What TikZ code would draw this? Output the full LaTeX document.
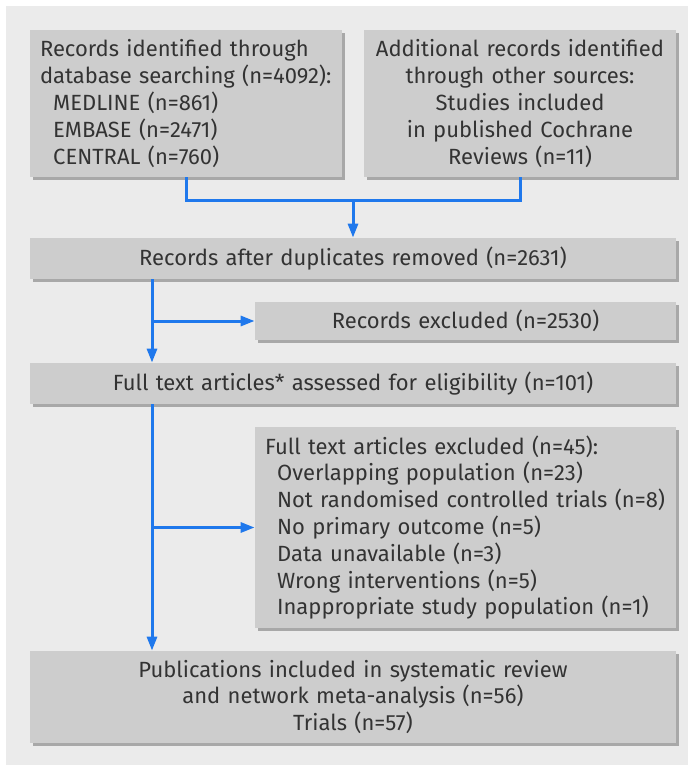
\documentclass[tikz,border=0pt]{standalone}
\usepackage{fontspec}
\setmainfont{Fira Sans}
\usetikzlibrary{arrows.meta,shadows}
\definecolor{pagegray}{HTML}{EBEBEB}
\definecolor{boxgray}{HTML}{CDCDCD}
\definecolor{shadegray}{HTML}{A8A8A8}
\definecolor{inkgray}{HTML}{333333}
\definecolor{flowblue}{HTML}{1F78EC}
\tikzset{
	stagebox/.style={fill=boxgray, text=inkgray, inner xsep=5pt, inner ysep=0pt,
		drop shadow={shadow xshift=1.5pt, shadow yshift=-1.5pt, fill=shadegray, opacity=1},
		font=\fontsize{11}{13.4}\selectfont},
	flow/.style={draw=flowblue, line width=1.5pt},
	flowtip/.style={flow, -{Triangle[length=7pt,width=5pt]}}
}

\begin{document}
\begin{tikzpicture}[x=0.5pt, y=-0.5pt]
			%%%%% START %%%%%
			\useasboundingbox (0, 0) rectangle (688, 765);
			\fill[white] (0, 0) rectangle (688, 765);
			\fill[pagegray] (6, 6) rectangle (688, 765);
			
			\node[stagebox, text width=146pt, minimum height=73.5pt, align=left] (dbsearch) at (186, 103.5)
				{Records identified through\\ database searching (n=4092):\\ \hspace*{0.6em}MEDLINE (n=861)\\ \hspace*{0.6em}EMBASE (n=2471)\\ \hspace*{0.6em}CENTRAL (n=760)};
			\node[stagebox, text width=146pt, minimum height=73.5pt, align=center] (othersrc) at (520, 103.5)
				{Additional records identified\\ through other sources:\\ Studies included\\ in published Cochrane\\ Reviews (n=11)};
			
			\node[stagebox, text width=313pt, minimum height=20.5pt, align=center] (dedup) at (353, 258.5)
				{Records after duplicates removed (n=2631)};
			\node[stagebox, text width=200.5pt, minimum height=19pt, align=center] (recexcl) at (465.5, 321)
				{Records excluded (n=2530)};
			
			\node[stagebox, text width=313pt, minimum height=20.5pt, align=center] (fulltext) at (353, 383.5)
				{Full text articles* assessed for eligibility (n=101)};
			\node[stagebox, text width=200.5pt, minimum height=100.5pt, align=left] (ftexcl) at (465.5, 527.5)
				{Full text articles excluded (n=45):\\ \hspace*{0.55em}Overlapping population (n=23)\\ \hspace*{0.55em}Not randomised controlled trials (n=8)\\ \hspace*{0.55em}No primary outcome (n=5)\\ \hspace*{0.55em}Data unavailable (n=3)\\ \hspace*{0.55em}Wrong interventions (n=5)\\ \hspace*{0.55em}Inappropriate study population (n=1)};
			
			\node[stagebox, text width=313pt, minimum height=46pt, align=center] (included) at (353, 697)
				{Publications included in systematic review\\ and network meta-analysis (n=56)\\ Trials (n=57)};
			
			\coordinate (join) at (353, 200);
			\coordinate (lane) at (152, 0);
			
			\draw[flow] (dbsearch.south) |- (join) -| (othersrc.south);
			\draw[flowtip] (join) -- (dedup.north);
			
			\draw[flowtip] (dedup.south -| lane) -- (fulltext.north -| lane);
			\draw[flowtip] (recexcl.west -| lane) -- (recexcl.west);
			
			\draw[flowtip] (fulltext.south -| lane) -- (included.north -| lane);
			\draw[flowtip] (ftexcl.west -| lane) -- (ftexcl.west);
			%%%%% END %%%%%
\end{tikzpicture}
\end{document}
